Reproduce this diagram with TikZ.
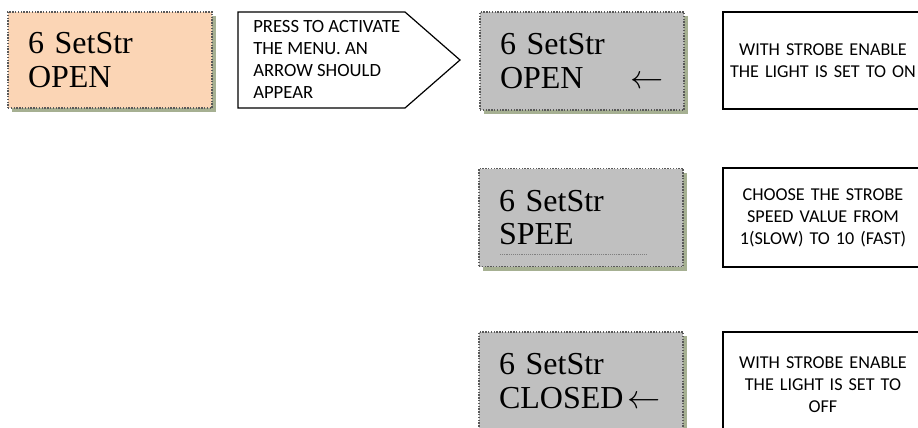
\documentclass[tikz,border=0pt]{standalone}
\usepackage{fontspec}
\setmainfont{Liberation Serif}
\newfontfamily\notefont{Carlito}
\usetikzlibrary{shadows}
\definecolor{peach}{RGB}{251,213,181}
\definecolor{lcdgray}{RGB}{192,192,192}
\definecolor{shadowgreen}{RGB}{166,176,146}

\begin{document}
\begin{tikzpicture}[x=0.75pt, y=-0.75pt, thin,
    lcd/.style = {draw=black!65, densely dotted, line width=1.1pt, fill=lcdgray, minimum width=153pt, minimum height=73.5pt, text width=123pt, inner xsep=15pt, inner ysep=0pt, align=left, font=\fontsize{24}{25}\selectfont, drop shadow={shadow xshift=3pt, shadow yshift=-3pt, fill=shadowgreen, opacity=1}},
    note/.style = {draw, solid, line width=1.1pt, minimum width=150pt, text width=144pt, inner xsep=3pt, align=center, font=\notefont\fontsize{13.6}{16.5}\selectfont}]
                \clip (0,0) rectangle (918,428);
                \node[lcd, fill=peach, minimum height=72pt] (start) at (110,60) {6 SetStr\\OPEN};
                \draw[line width=0.9pt] (238,12) -- (405,12) -- (460,60) -- (405,108) -- (238,108) -- cycle;
                \node[anchor=north west, inner sep=0pt, align=left, font=\notefont\fontsize{14}{16.5}\selectfont] (press) at (253,20) {PRESS TO ACTIVATE\\THE MENU. AN\\ARROW SHOULD\\APPEAR};
                \node[lcd] (open) at (582,61) {6 SetStr\\OPEN\hspace{0pt plus 1filll}$\leftarrow$};
                \node[lcd] (speed) at (581,217.5) {6 SetStr\\SPEE};
                \node[lcd] (closed) at (581,381) {6 SetStr\\\makebox[123pt][l]{CLOSED\hspace{3pt}$\leftarrow$}};
                \draw[black!50, densely dotted] (500,254) -- (647,254);
                \node[note, minimum height=72.75pt] (on) at (823,60.5) {WITH STROBE ENABLE\\THE LIGHT IS SET TO ON};
                \node[note, minimum height=74pt] (choose) at (823,217.5) {CHOOSE THE STROBE\\SPEED VALUE FROM\\1(SLOW) TO 10 (FAST)};
                \node[note, minimum height=79.5pt] (off) at (823,385) {WITH STROBE ENABLE\\THE LIGHT IS SET TO\\OFF};
            \end{tikzpicture}
\end{document}
